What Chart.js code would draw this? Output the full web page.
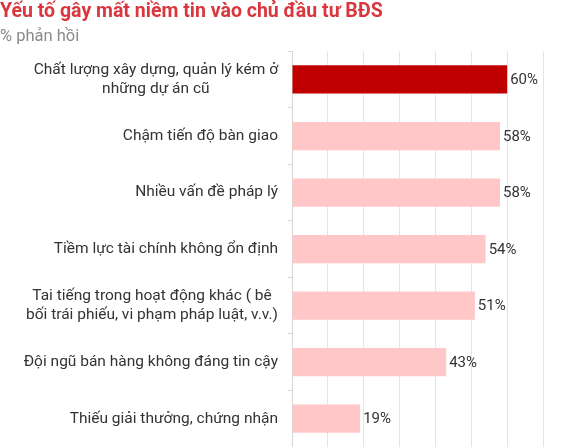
<!DOCTYPE html>
<html>
<head>
<meta charset="utf-8">
<script src="https://cdn.jsdelivr.net/npm/chart.js@4.4.1/dist/chart.umd.min.js"></script>
<style>
  html, body { margin: 0; padding: 0; background: #fff; }
  #wrap { width: 569px; height: 447px; position: relative; }
</style>
</head>
<body>
<div id="wrap"><canvas id="grafica"></canvas></div>
<script>
// Datos del gráfico
const categorias = [
    ['Chất lượng xây dựng, quản lý kém ở', 'những dự án cũ'],
    ['Chậm tiến độ bàn giao'],
    ['Nhiều vấn đề pháp lý'],
    ['Tiềm lực tài chính không ổn định'],
    ['Tai tiếng trong hoạt động khác ( bê', 'bối trái phiếu, vi phạm pháp luật, v.v.)'],
    ['Đội ngũ bán hàng không đáng tin cậy'],
    ['Thiếu giải thưởng, chứng nhận']
];
const valores = [60, 58, 58, 54, 51, 43, 19];
const destacado = [true, false, false, false, false, false, false];
const titulo = 'Yếu tố gây mất niềm tin vào chủ đầu tư BĐS';
const subtitulo = '% phản hồi';

const FUENTE = 'Roboto, "Noto Sans", sans-serif';

// Etiquetas del eje Y: bloque alineado a la derecha, líneas centradas entre sí
const etiquetasEje = {
    id: 'etiquetasEje',
    afterDraw(chart) {
        const ctx = chart.ctx;
        const y = chart.scales.y;
        ctx.save();
        ctx.font = '15.5px ' + FUENTE;
        ctx.fillStyle = '#333333';
        ctx.textBaseline = 'middle';
        ctx.textAlign = 'center';
        const derecha = y.right - 14;
        const alto = 19;
        categorias.forEach((lineas, i) => {
            const cy = y.getPixelForValue(i);
            const ancho = Math.max(...lineas.map(l => ctx.measureText(l).width));
            const cx = derecha - ancho / 2;
            const y0 = cy - (lineas.length - 1) * alto / 2;
            lineas.forEach((l, j) => ctx.fillText(l, cx, y0 + j * alto));
        });
        ctx.restore();
    }
};

// Valores al final de cada barra
const etiquetasValor = {
    id: 'etiquetasValor',
    afterDatasetsDraw(chart) {
        const ctx = chart.ctx;
        const meta = chart.getDatasetMeta(0);
        ctx.save();
        ctx.font = '15px ' + FUENTE;
        ctx.fillStyle = '#333333';
        ctx.textBaseline = 'middle';
        ctx.textAlign = 'left';
        meta.data.forEach((barra, i) => {
            ctx.fillText(valores[i] + '%', barra.x + 3, barra.y + 1);
        });
        ctx.restore();
    }
};

new Chart(document.getElementById('grafica'), {
    type: 'bar',
    data: {
        labels: categorias.map(c => c.join(' ')),
        datasets: [{
            data: valores,
            backgroundColor: destacado.map(d => d ? '#c00000' : '#ffc7c7'),
            borderWidth: 0,
            barPercentage: 0.5,
            categoryPercentage: 1
        }]
    },
    options: {
        indexAxis: 'y',
        responsive: true,
        maintainAspectRatio: false,
        animation: false,
        layout: { padding: { top: 0, right: 26, bottom: 0, left: 0 } },
        plugins: {
            legend: { display: false },
            tooltip: { enabled: false },
            title: {
                display: true,
                text: titulo,
                align: 'start',
                color: '#d9363e',
                font: { family: FUENTE, size: 19.5, weight: 'bold' },
                padding: { top: 0, bottom: 4 }
            },
            subtitle: {
                display: true,
                text: subtitulo,
                align: 'start',
                color: '#8a8a8a',
                font: { family: FUENTE, size: 16.5 },
                padding: { top: 0, bottom: 4 }
            }
        },
        scales: {
            x: {
                min: 0,
                max: 70,
                ticks: { display: false, stepSize: 10 },
                grid: { color: '#e4e4e4', drawTicks: false },
                border: { display: false }
            },
            y: {
                ticks: { display: false },
                grid: { drawOnChartArea: false, drawTicks: true, tickLength: 4, color: '#d6d6d6' },
                border: { display: true, color: '#d6d6d6' },
                afterFit(scale) { scale.width = 292; }
            }
        }
    },
    plugins: [etiquetasEje, etiquetasValor]
});
</script>
</body>
</html>
